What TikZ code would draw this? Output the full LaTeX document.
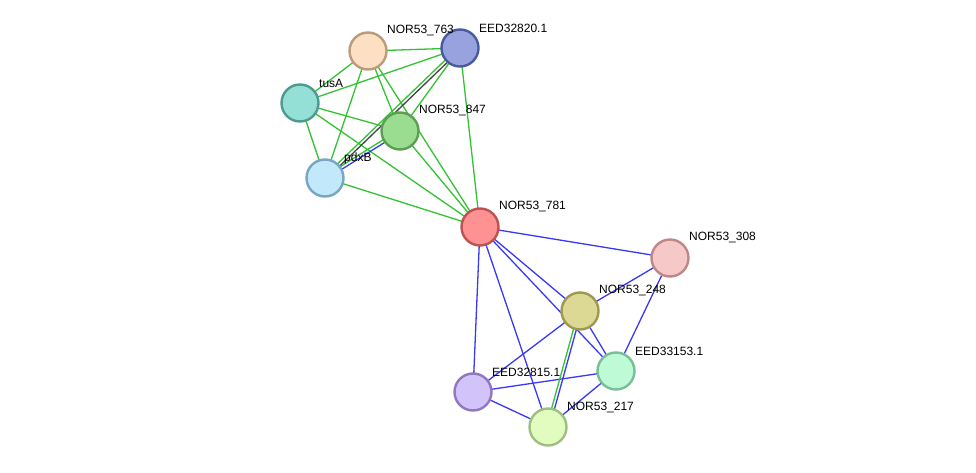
\documentclass[tikz,border=0pt]{standalone}
\usepackage{fontspec}
\setmainfont{Liberation Sans}
\usetikzlibrary{calc}
\pgfdeclarelayer{edges}
\pgfsetlayers{edges,main}

\definecolor{egreen}{HTML}{33C233}
\definecolor{eblue}{HTML}{3838F5}
\definecolor{egray}{HTML}{444444}
% colori dei nodi (riempimento / bordo)
\definecolor{f763}{HTML}{FDDFC3}\definecolor{d763}{HTML}{B89C7C}
\definecolor{f820}{HTML}{97A2DE}\definecolor{d820}{HTML}{4A5A9E}
\definecolor{ftus}{HTML}{94DFD6}\definecolor{dtus}{HTML}{4E9990}
\definecolor{f847}{HTML}{9ADD90}\definecolor{d847}{HTML}{5C9E52}
\definecolor{fpdx}{HTML}{C2E8FC}\definecolor{dpdx}{HTML}{78A6C2}
\definecolor{f781}{HTML}{FE9191}\definecolor{d781}{HTML}{BC5252}
\definecolor{f308}{HTML}{F7C8C8}\definecolor{d308}{HTML}{BE8888}
\definecolor{f248}{HTML}{DCD994}\definecolor{d248}{HTML}{9E9850}
\definecolor{f153}{HTML}{BFFAD6}\definecolor{d153}{HTML}{78BE98}
\definecolor{f815}{HTML}{D3C3FB}\definecolor{d815}{HTML}{9078BE}
\definecolor{f217}{HTML}{E2FCBF}\definecolor{d217}{HTML}{A0BE80}

\tikzset{
  prot/.style={circle, minimum size=37pt, inner sep=0pt, line width=2.4pt,
    fill=f#1, draw=d#1},
  lbl/.style={anchor=west, font=\fontsize{12}{12}\selectfont, inner sep=0pt},
  gr/.style={egreen, line width=1.3pt},
  bl/.style={eblue, line width=1.3pt},
  gy/.style={egray, line width=1.3pt},
}

\begin{document}
\begin{tikzpicture}[x=1pt, y=-1pt]
    \useasboundingbox (0,0) rectangle (976,473);

    % Proteine
    \node[prot=763] (n763) at (368,51) {};
    \node[prot=820] (n820) at (460,48) {};
    \node[prot=tus] (tusA) at (300,103) {};
    \node[prot=847] (n847) at (400,131) {};
    \node[prot=pdx] (pdxB) at (325,178) {};
    \node[prot=781] (n781) at (480,227) {};
    \node[prot=308] (n308) at (670,258) {};
    \node[prot=248] (n248) at (580,311) {};
    \node[prot=153] (n153) at (616,371) {};
    \node[prot=815] (n815) at (473,392) {};
    \node[prot=217] (n217) at (548,427) {};

    % Etichette
    \node[lbl] (t763) at ([shift={(19,-20)}]n763) {NOR53\_763};
    \node[lbl] (t820) at ([shift={(19,-20)}]n820) {EED32820.1};
    \node[lbl] (ttusA) at ([shift={(19,-20)}]tusA) {tusA};
    \node[lbl] (t847) at ([shift={(19,-20)}]n847) {NOR53\_847};
    \node[lbl] (tpdxB) at ([shift={(19,-20)}]pdxB) {pdxB};
    \node[lbl] (t781) at ([shift={(19,-20)}]n781) {NOR53\_781};
    \node[lbl] (t308) at ([shift={(19,-20)}]n308) {NOR53\_308};
    \node[lbl] (t248) at ([shift={(19,-20)}]n248) {NOR53\_248};
    \node[lbl] (t153) at ([shift={(19,-20)}]n153) {EED33153.1};
    \node[lbl] (t815) at ([shift={(19,-20)}]n815) {EED32815.1};
    \node[lbl] (t217) at ([shift={(19,-20)}]n217) {NOR53\_217};

    \begin{pgfonlayer}{edges}
        % Archi verdi
        \foreach \a/\b in {n763/n820, n763/tusA, n763/n847, n763/pdxB, n763/n781,
                           n820/tusA, n820/n847, n820/n781, tusA/n847, tusA/pdxB,
                           tusA/n781, n847/n781, pdxB/n781}
            \draw[gr] (\a.center) -- (\b.center);
        % Archi blu
        \foreach \a/\b in {n781/n308, n781/n248, n781/n153, n781/n815, n781/n217,
                           n308/n248, n308/n153, n248/n153, n248/n815,
                           n153/n815, n153/n217, n815/n217}
            \draw[bl] (\a.center) -- (\b.center);

        % Archi doppi
        \draw[gr, transform canvas={shift={(-1.1pt,1.1pt)}}] (pdxB.center) -- (n820.center);
        \draw[gy, transform canvas={shift={(1.1pt,-1.1pt)}}] (pdxB.center) -- (n820.center);
        \draw[gr, transform canvas={shift={(-0.8pt,1.3pt)}}] (pdxB.center) -- (n847.center);
        \draw[bl, transform canvas={shift={(0.8pt,-1.3pt)}}] (pdxB.center) -- (n847.center);
        \draw[gr, transform canvas={shift={(-1.5pt,0pt)}}] (n248.center) -- (n217.center);
        \draw[bl, transform canvas={shift={(1.5pt,0pt)}}] (n248.center) -- (n217.center);
    \end{pgfonlayer}
\end{tikzpicture}
\end{document}
